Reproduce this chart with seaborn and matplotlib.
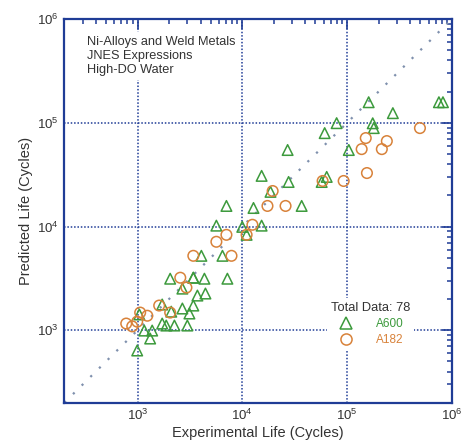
import numpy as np
import pandas as pd
import matplotlib
matplotlib.use("Agg")
import matplotlib.pyplot as plt
from matplotlib.lines import Line2D
from matplotlib.ticker import LogLocator, NullFormatter
import seaborn as sns

# ---- data (experimental life, predicted life) ----
a600_exp = [1.61e5, 7.54e5, 8.24e5, 2.74e5, 7.96e4, 1.76e5, 1.80e5, 6.12e4, 2.71e4, 1.04e5,
            1.53e4, 2.77e4, 6.40e4, 5.73e4, 1.86e4, 7.06e3, 1.28e4, 3.69e4, 5.66e3, 1.00e4,
            1.53e4, 1.10e4, 4.07e3, 6.47e3, 2.05e3, 3.41e3, 3.41e3, 4.35e3, 7.21e3, 2.68e3,
            3.73e3, 4.45e3, 1.72e3, 2.68e3, 3.41e3, 3.13e3, 2.10e3, 1.04e3, 1.72e3, 1.88e3,
            2.25e3, 2.99e3, 1.16e3, 1.38e3, 1.32e3, 993]
a600_pred = [1.58e5, 1.58e5, 1.58e5, 1.24e5, 9.93e4, 9.9e4, 8.9e4, 7.96e4, 5.47e4, 5.47e4,
             3.08e4, 2.69e4, 3.01e4, 2.69e4, 2.16e4, 1.58e4, 1.51e4, 1.58e4, 1.02e4, 9.93e3,
             1.02e4, 8.32e3, 5.22e3, 5.22e3, 3.14e3, 3.21e3, 3.21e3, 3.14e3, 3.14e3, 2.52e3,
             2.16e3, 2.26e3, 1.77e3, 1.62e3, 1.73e3, 1.45e3, 1.51e3, 1.42e3, 1.16e3, 1.11e3,
             1.11e3, 1.11e3, 993, 993, 832, 638]

a182_exp = [4.97e5, 1.51e5, 2.40e5, 1.38e5, 2.15e5, 1.55e5, 9.29e4, 5.85e4, 1.95e4, 1.74e4,
            2.59e4, 1.25e4, 1.10e4, 5.66e3, 7.06e3, 3.41e3, 7.89e3, 2.56e3, 2.93e3, 1.61e3,
            2.05e3, 1.06e3, 1.24e3, 780, 890, 993]
a182_pred = [8.9e4, 7.13e4, 6.67e4, 5.58e4, 5.58e4, 3.28e4, 2.75e4, 2.75e4, 2.20e4, 1.58e4,
             1.58e4, 1.04e4, 8.32e3, 7.13e3, 8.32e3, 5.22e3, 5.22e3, 3.21e3, 2.58e3, 1.73e3,
             1.48e3, 1.48e3, 1.38e3, 1.16e3, 1.09e3, 1.21e3]

series_names = ["A600", "A182"]
total_label = "Total Data: 78"
x_ticks = [1e3, 1e4, 1e5, 1e6]
y_ticks = [1e3, 1e4, 1e5, 1e6]
axis_lim = [200, 1e6]

df = pd.concat([
    pd.DataFrame({"exp": a600_exp, "pred": a600_pred, "alloy": "A600"}),
    pd.DataFrame({"exp": a182_exp, "pred": a182_pred, "alloy": "A182"}),
], ignore_index=True)

sns.set_style("white")
plt.rcParams["font.family"] = ["Liberation Sans", "DejaVu Sans"]
plt.rcParams["mathtext.default"] = "regular"

BLUE = "#1f3c96"
GREEN = "#3c9a3c"
ORANGE = "#d8823a"
TXT = "#333333"

fig = plt.figure(figsize=(4.64, 4.45), dpi=100)
ax = fig.add_axes([0.1386, 0.095, 0.835, 0.862])
ax.set_xscale("log")
ax.set_yscale("log")
ax.set_xlim(axis_lim)
ax.set_ylim(axis_lim)

# 1:1 line
ax.plot(axis_lim, axis_lim, color="#7f90ad", lw=1.6, linestyle=(0, (1, 4.5)), zorder=1)

colors = {"A600": GREEN, "A182": ORANGE}
markers = {"A600": "^", "A182": "o"}
for name in series_names:
    sub = df[df["alloy"] == name]
    sns.scatterplot(data=sub, x="exp", y="pred", ax=ax, marker=markers[name],
                    color=colors[name], facecolor="none", edgecolor=colors[name],
                    linewidth=1.1, s=58, zorder=3, legend=False)

ax.set_xticks(x_ticks)
ax.set_yticks(y_ticks)
for a in (ax.xaxis, ax.yaxis):
    a.set_minor_locator(LogLocator(base=10, subs=np.arange(2, 10), numticks=20))
    a.set_minor_formatter(NullFormatter())

ax.grid(True, which="major", color=BLUE, linestyle=(0, (1, 1.2)), lw=1.1, zorder=0)
ax.tick_params(which="both", direction="in", top=True, right=True, color=BLUE,
               labelcolor=TXT, labelsize=9.5)
ax.tick_params(which="major", length=7, width=1.2, pad=4)
ax.tick_params(which="minor", length=3.5, width=1.1)
for sp in ax.spines.values():
    sp.set_color(BLUE)
    sp.set_linewidth(1.6)

ax.set_xlabel("Experimental Life (Cycles)", fontsize=10.5, color=TXT, labelpad=2)
ax.set_ylabel("Predicted Life (Cycles)", fontsize=10.5, color=TXT, labelpad=3)

ax.text(0.058, 0.955, "Ni-Alloys and Weld Metals\nJNES Expressions\nHigh-DO Water",
        transform=ax.transAxes, ha="left", va="top", fontsize=9.2, color=TXT,
        linespacing=1.2, zorder=5,
        bbox=dict(facecolor="white", edgecolor="none", pad=3))

handles = [Line2D([], [], marker=markers[n], color=colors[n], markerfacecolor="none",
                  markeredgecolor=colors[n], markersize=8, markeredgewidth=1.1, linestyle="none")
           for n in series_names]
leg = ax.legend(handles, series_names, title=total_label, loc="center",
                bbox_to_anchor=(0.79, 0.205), frameon=True, facecolor="white",
                edgecolor="none", framealpha=1, fontsize=8.5, title_fontsize=9.3,
                handletextpad=1.8, labelspacing=0.35, borderpad=0.3, handlelength=1.5)
leg.get_title().set_color(TXT)
for t, n in zip(leg.get_texts(), series_names):
    t.set_color(colors[n])
leg.set_zorder(4)

fig.savefig("out.png", dpi=100)
